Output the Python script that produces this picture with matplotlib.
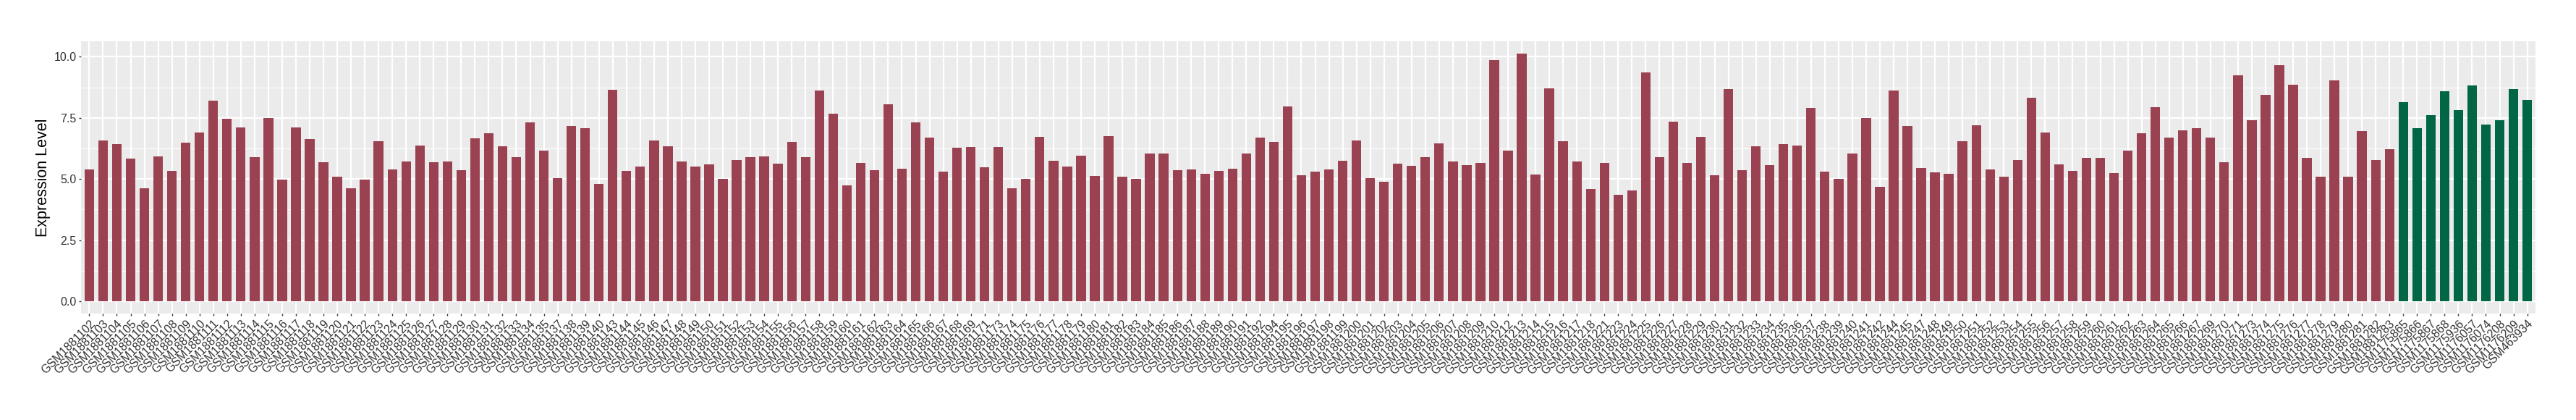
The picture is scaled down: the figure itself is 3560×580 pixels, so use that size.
import matplotlib
matplotlib.use("Agg")
import matplotlib.pyplot as plt
import numpy as np
from matplotlib.ticker import MultipleLocator

# samples shown in red (first group)
red_samples = [
    "GSM1881102", "GSM1881103", "GSM1881104", "GSM1881105", "GSM1881106",
    "GSM1881107", "GSM1881108", "GSM1881109", "GSM1881110", "GSM1881111",
    "GSM1881112", "GSM1881113", "GSM1881114", "GSM1881115", "GSM1881116",
    "GSM1881117", "GSM1881118", "GSM1881119", "GSM1881120", "GSM1881121",
    "GSM1881122", "GSM1881123", "GSM1881124", "GSM1881125", "GSM1881126",
    "GSM1881127", "GSM1881128", "GSM1881129", "GSM1881130", "GSM1881131",
    "GSM1881132", "GSM1881133", "GSM1881134", "GSM1881135", "GSM1881137",
    "GSM1881138", "GSM1881139", "GSM1881140", "GSM1881143", "GSM1881144",
    "GSM1881145", "GSM1881146", "GSM1881147", "GSM1881148", "GSM1881149",
    "GSM1881150", "GSM1881151", "GSM1881152", "GSM1881153", "GSM1881154",
    "GSM1881155", "GSM1881156", "GSM1881157", "GSM1881158", "GSM1881159",
    "GSM1881160", "GSM1881161", "GSM1881162", "GSM1881163", "GSM1881164",
    "GSM1881165", "GSM1881166", "GSM1881167", "GSM1881168", "GSM1881169",
    "GSM1881171", "GSM1881173", "GSM1881174", "GSM1881175", "GSM1881176",
    "GSM1881177", "GSM1881178", "GSM1881179", "GSM1881180", "GSM1881181",
    "GSM1881182", "GSM1881183", "GSM1881184", "GSM1881185", "GSM1881186",
    "GSM1881187", "GSM1881188", "GSM1881189", "GSM1881190", "GSM1881191",
    "GSM1881192", "GSM1881194", "GSM1881195", "GSM1881196", "GSM1881197",
    "GSM1881198", "GSM1881199", "GSM1881200", "GSM1881201", "GSM1881202",
    "GSM1881203", "GSM1881204", "GSM1881205", "GSM1881206", "GSM1881207",
    "GSM1881208", "GSM1881209", "GSM1881210", "GSM1881212", "GSM1881213",
    "GSM1881214", "GSM1881215", "GSM1881216", "GSM1881217", "GSM1881218",
    "GSM1881221", "GSM1881223", "GSM1881224", "GSM1881225", "GSM1881226",
    "GSM1881227", "GSM1881228", "GSM1881229", "GSM1881230", "GSM1881231",
    "GSM1881232", "GSM1881233", "GSM1881234", "GSM1881235", "GSM1881236",
    "GSM1881237", "GSM1881238", "GSM1881239", "GSM1881240", "GSM1881241",
    "GSM1881242", "GSM1881244", "GSM1881245", "GSM1881247", "GSM1881248",
    "GSM1881249", "GSM1881250", "GSM1881251", "GSM1881252", "GSM1881253",
    "GSM1881254", "GSM1881255", "GSM1881256", "GSM1881257", "GSM1881258",
    "GSM1881259", "GSM1881260", "GSM1881261", "GSM1881262", "GSM1881263",
    "GSM1881264", "GSM1881265", "GSM1881266", "GSM1881267", "GSM1881269",
    "GSM1881270", "GSM1881271", "GSM1881273", "GSM1881274", "GSM1881275",
    "GSM1881276", "GSM1881277", "GSM1881278", "GSM1881279", "GSM1881280",
    "GSM1881281", "GSM1881282", "GSM1881283",
]

red_values = [
    5.39, 6.57, 6.42, 5.83, 4.61, 5.92, 5.33, 6.48, 6.90, 8.20,
    7.46, 7.10, 5.89, 7.49, 4.97, 7.10, 6.63, 5.68, 5.09, 4.61,
    4.97, 6.54, 5.39, 5.71, 6.36, 5.68, 5.71, 5.36, 6.66, 6.87,
    6.33, 5.89, 7.31, 6.16, 5.03, 7.16, 7.08, 4.79, 8.65, 5.33,
    5.50, 6.57, 6.33, 5.71, 5.50, 5.59, 5.00, 5.77, 5.89, 5.92,
    5.62, 6.51, 5.89, 8.62, 7.67, 4.73, 5.65, 5.36, 8.05, 5.42,
    7.31, 6.69, 5.30, 6.27, 6.30, 5.47, 6.30, 4.61, 5.00, 6.72,
    5.74, 5.50, 5.95, 5.12, 6.75, 5.09, 5.00, 6.04, 6.04, 5.36,
    5.39, 5.21, 5.33, 5.42, 6.04, 6.69, 6.51, 7.96, 5.15, 5.30,
    5.39, 5.74, 6.57, 5.03, 4.88, 5.62, 5.53, 5.89, 6.45, 5.71,
    5.56, 5.65, 9.86, 6.16, 10.13, 5.18, 8.71, 6.54, 5.71, 4.58,
    5.65, 4.35, 4.53, 9.36, 5.89, 7.34, 5.65, 6.72, 5.15, 8.68,
    5.36, 6.33, 5.56, 6.42, 6.36, 7.91, 5.30, 5.00, 6.04, 7.49,
    4.67, 8.62, 7.16, 5.44, 5.27, 5.21, 6.54, 7.19, 5.39, 5.09,
    5.77, 8.32, 6.90, 5.59, 5.33, 5.86, 5.86, 5.24, 6.16, 6.87,
    7.93, 6.69, 6.99, 7.08, 6.69, 5.68, 9.24, 7.40, 8.44, 9.65,
    8.85, 5.86, 5.09, 9.03, 5.09, 6.96, 5.77, 6.22,
]

# samples shown in green (second group)
green_samples = [
    "GSM1175865", "GSM1175866", "GSM1175867", "GSM1175868", "GSM1175936",
    "GSM1176057", "GSM1176074", "GSM1176208", "GSM1176209", "GSM463934",
]
green_values = [8.14, 7.08, 7.61, 8.59, 7.82, 8.82, 7.22, 7.40, 8.68, 8.23]

RED = "#9B4252"
GREEN = "#006645"
TEXT = "#333333"

samples = red_samples + green_samples
values = red_values + green_values
colors = [RED] * len(red_samples) + [GREEN] * len(green_samples)
x = np.arange(len(samples))

plt.rcParams["font.family"] = ["Liberation Sans", "DejaVu Sans"]

W, H = 3560, 580
fig = plt.figure(figsize=(W / 100, H / 100), dpi=100)
# panel position in pixels
left, right, top, bottom = 112, 3504, 57, 433
ax = fig.add_axes([left / W, 1 - bottom / H, (right - left) / W, (bottom - top) / H])

ax.set_facecolor("#EBEBEB")
ax.bar(x, values, width=0.7, color=colors, zorder=3)

ax.set_xlim(-0.6, len(samples) - 1 + 0.6)
ymax = max(values)
ax.set_ylim(-0.05 * ymax, ymax * 1.05)

ax.yaxis.set_minor_locator(MultipleLocator(1.25))
ax.set_yticks([0, 2.5, 5, 7.5, 10])
ax.set_yticklabels(["0.0", "2.5", "5.0", "7.5", "10.0"])

ax.grid(which="major", color="white", linewidth=1.6, zorder=0)
ax.grid(which="minor", axis="y", color="white", linewidth=0.8, zorder=0)

ax.set_xticks(x)
ax.set_xticklabels(samples, rotation=45, ha="right", va="top",
                   rotation_mode="anchor", fontsize=11.5, color=TEXT)
ax.tick_params(axis="x", which="major", length=2.5, width=1,
               color="#333333", pad=2)
ax.tick_params(axis="y", which="major", length=2.5, width=1,
               color="#333333", labelsize=11.5, labelcolor=TEXT, pad=2)
ax.tick_params(axis="y", which="minor", length=0)

for s in ax.spines.values():
    s.set_visible(False)

ax.set_ylabel("Expression Level", fontsize=15.5, labelpad=3, color="black")

fig.savefig("out.png", dpi=100, facecolor="white")
